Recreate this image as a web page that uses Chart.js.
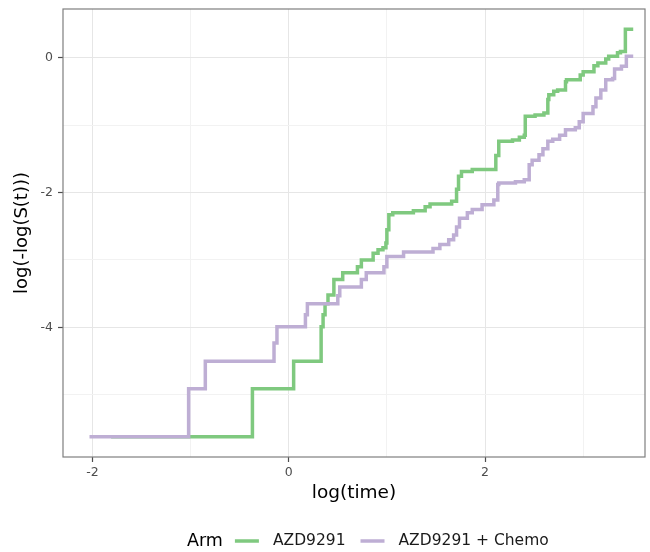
<!DOCTYPE html>
<html>
<head>
<meta charset="utf-8">
<script src="https://cdn.jsdelivr.net/npm/chart.js@4.4.1/dist/chart.umd.min.js"></script>
<style>
  html, body { margin: 0; padding: 0; background: #fff; }
  canvas { display: block; }
</style>
</head>
<body>
<canvas id="myChart" width="650" height="552"></canvas>
<script>
// log(time) at each step, and log(-log(S(t))) just after it
const azdTime = [-1.81, -0.37, 0.05, 0.33, 0.35, 0.37, 0.40, 0.46, 0.55, 0.70, 0.74, 0.86, 0.91, 0.96, 0.99, 1.00,
    1.02, 1.06, 1.27, 1.39, 1.44, 1.66, 1.71, 1.73, 1.76, 1.87, 2.11, 2.14, 2.28, 2.35, 2.40, 2.41, 2.51, 2.60,
    2.64, 2.65, 2.70, 2.74, 2.82, 2.83, 2.97, 3.00, 3.11, 3.15, 3.23, 3.26, 3.35, 3.38, 3.43, 3.51];
const azdValue = [-5.62, -4.91, -4.50, -3.99, -3.81, -3.65, -3.52, -3.29, -3.19, -3.10, -3.00, -2.90, -2.85, -2.82, -2.75, -2.55,
    -2.33, -2.30, -2.27, -2.21, -2.17, -2.13, -1.95, -1.76, -1.69, -1.66, -1.45, -1.24, -1.22, -1.18, -1.15, -0.87, -0.85, -0.82,
    -0.62, -0.55, -0.50, -0.48, -0.36, -0.33, -0.26, -0.21, -0.12, -0.08, -0.02, 0.02, 0.07, 0.09, 0.42, 0.42];

const chemoTime = [-2.03, -1.02, -0.85, -0.15, -0.12, 0.17, 0.19, 0.50, 0.52, 0.74, 0.79, 0.97, 1.00, 1.17, 1.47, 1.54,
    1.63, 1.68, 1.71, 1.74, 1.82, 1.87, 1.97, 2.09, 2.13, 2.14, 2.31, 2.40, 2.45, 2.48, 2.55, 2.59, 2.64, 2.69, 2.76,
    2.82, 2.92, 2.96, 3.00, 3.10, 3.13, 3.18, 3.23, 3.30, 3.32, 3.39, 3.44, 3.51];
const chemoValue = [-5.62, -4.91, -4.50, -4.23, -3.99, -3.81, -3.65, -3.53, -3.40, -3.29, -3.19, -3.10, -2.95, -2.88, -2.83, -2.77,
    -2.70, -2.63, -2.51, -2.38, -2.30, -2.25, -2.18, -2.11, -1.88, -1.86, -1.84, -1.81, -1.59, -1.52, -1.44, -1.35, -1.24, -1.21, -1.15,
    -1.07, -1.04, -0.95, -0.83, -0.73, -0.60, -0.48, -0.33, -0.31, -0.17, -0.13, 0.02, 0.02];

const armLabels = ['AZD9291', 'AZD9291 + Chemo'];
const armColors = ['#7fc97f', '#beaed4'];

const xTicks = [-2, -1, 0, 1, 2, 3];
const yTicks = [-5, -4, -3, -2, -1, 0];
const xLabelled = [-2, 0, 2];
const yLabelled = [-4, -2, 0];

const toPoints = (xs, ys) => xs.map((x, i) => ({ x: x, y: ys[i] }));

const gridColor = (labelled) => (ctx) => labelled.includes(ctx.tick.value) ? '#e6e6e6' : '#f2f2f2';
const tickColor = (labelled) => (ctx) => labelled.includes(ctx.tick.value) ? '#4d4d4d' : 'rgba(0,0,0,0)';

// panel border + legend drawn by hand (ggplot style)
const panelAndLegend = {
    id: 'panelAndLegend',
    afterDraw(chart) {
        const ctx = chart.ctx;
        const a = chart.chartArea;
        ctx.save();
        ctx.strokeStyle = '#7f7f7f';
        ctx.lineWidth = 1.2;
        ctx.strokeRect(a.left, a.top, a.right - a.left, a.bottom - a.top);

        const y = 541;
        let x = 187;
        ctx.textBaseline = 'middle';
        ctx.textAlign = 'left';
        ctx.fillStyle = '#000';
        ctx.font = '17.5px "DejaVu Sans"';
        ctx.fillText('Arm', x, y);
        x += ctx.measureText('Arm').width + 12;
        ctx.font = '15.5px "DejaVu Sans"';
        armLabels.forEach((label, i) => {
            ctx.strokeStyle = armColors[i];
            ctx.lineWidth = 3.5;
            ctx.beginPath();
            ctx.moveTo(x, y);
            ctx.lineTo(x + 24, y);
            ctx.stroke();
            x += 38;
            ctx.fillStyle = '#1a1a1a';
            ctx.fillText(label, x, y);
            x += ctx.measureText(label).width + 15;
        });
        ctx.restore();
    }
};

const config = {
    type: 'line',
    data: {
        datasets: [{
            label: armLabels[1],
            data: toPoints(chemoTime, chemoValue),
            borderColor: armColors[1],
            borderWidth: 3.5,
            stepped: true,
            pointRadius: 0,
            fill: false,
            order: 0
        }, {
            label: armLabels[0],
            data: toPoints(azdTime, azdValue),
            borderColor: armColors[0],
            borderWidth: 3.5,
            stepped: true,
            pointRadius: 0,
            fill: false,
            order: 1
        }]
    },
    options: {
        responsive: false,
        animation: false,
        layout: { padding: { top: 9, right: 5, bottom: 45, left: 0 } },
        scales: {
            x: {
                type: 'linear',
                min: -2.30,
                max: 3.63,
                afterBuildTicks: (scale) => { scale.ticks = xTicks.map(v => ({ value: v })); },
                afterFit: (scale) => { scale.height = 50; scale.paddingLeft = 0; scale.paddingRight = 0; },
                grid: { color: gridColor(xLabelled), tickColor: tickColor(xLabelled), tickLength: 5, tickWidth: 1.2 },
                border: { display: false },
                ticks: {
                    autoSkip: false,
                    maxRotation: 0,
                    padding: 3,
                    color: '#4d4d4d',
                    font: { family: 'DejaVu Sans', size: 12.5 },
                    callback: (v) => xLabelled.includes(v) ? String(v) : ''
                },
                title: {
                    display: true,
                    text: 'log(time)',
                    color: '#000',
                    font: { family: 'DejaVu Sans', size: 18.5 },
                    padding: { top: 0, bottom: 3 }
                }
            },
            y: {
                type: 'linear',
                min: -5.92,
                max: 0.72,
                afterBuildTicks: (scale) => { scale.ticks = yTicks.map(v => ({ value: v })); },
                afterFit: (scale) => { scale.width = 63; scale.paddingTop = 0; scale.paddingBottom = 0; },
                grid: { color: gridColor(yLabelled), tickColor: tickColor(yLabelled), tickLength: 5, tickWidth: 1.2 },
                border: { display: false },
                ticks: {
                    autoSkip: false,
                    padding: 5,
                    color: '#4d4d4d',
                    font: { family: 'DejaVu Sans', size: 12.5 },
                    callback: (v) => yLabelled.includes(v) ? String(v) : ''
                },
                title: {
                    display: true,
                    text: 'log(-log(S(t)))',
                    color: '#000',
                    font: { family: 'DejaVu Sans', size: 18 },
                    padding: { top: 12, bottom: 0 }
                }
            }
        },
        plugins: {
            legend: { display: false },
            tooltip: { enabled: false }
        }
    },
    plugins: [panelAndLegend]
};

let myChart = new Chart(document.getElementById('myChart'), config);
</script>
</body>
</html>
